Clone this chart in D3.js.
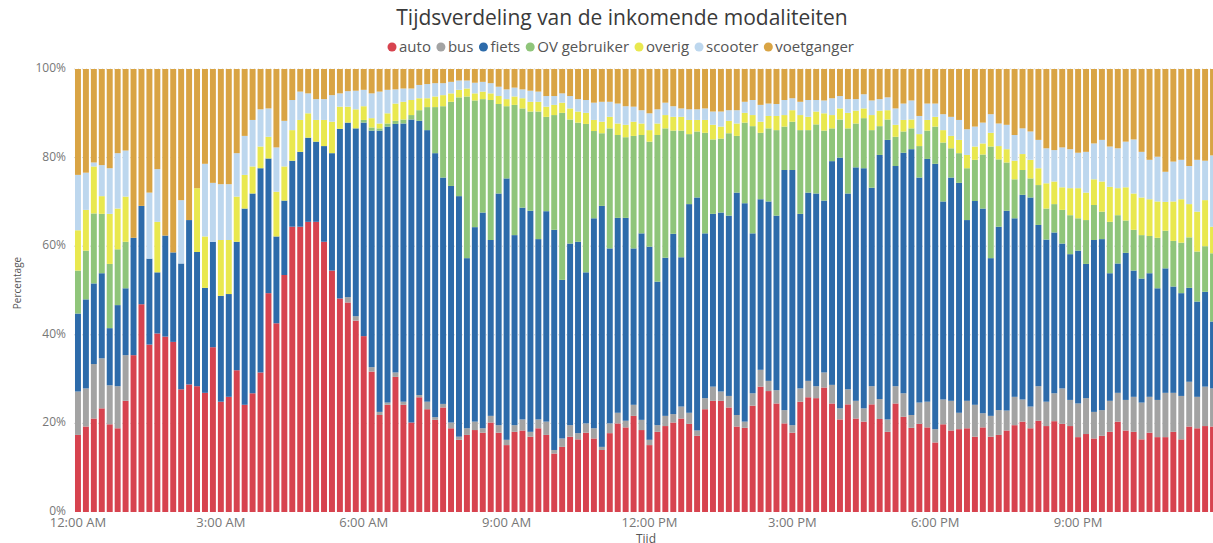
<!DOCTYPE html>
<meta charset="utf-8">
<head>
<style>
  body { margin: 0; background: #fff; }
  text { font-family: "Open Sans", sans-serif; }
</style>
</head>

<script src="https://d3js.org/d3.v7.min.js"></script>

<body>
    <div id="my_dataviz"></div>
</body>

<script>

    // series names and colours (legend order = stack order, bottom to top)
    var keys = ["auto", "bus", "fiets", "OV gebruiker", "overig", "scooter", "voetganger"];
    var colors = ["#d7434f", "#a3a3a3", "#2d6baa", "#8fc57a", "#e9e84f", "#bdd7ee", "#d9a444"];

    // percentages per 10-minute slot
    var auto = [17.4,19.3,21.1,23.4,19.8,18.9,25.1,35.4,46.9,37.8,
                40.3,39.6,38.4,27.7,28.8,28.4,26.9,37.2,24.9,26.0,
                32.0,24.2,26.8,31.5,49.4,42.6,53.5,64.4,64.4,65.5,
                65.5,61.0,54.5,48.2,47.3,43.2,39.7,31.7,21.9,24.2,
                30.5,24.2,20.2,25.9,23.2,20.8,23.6,18.9,16.3,17.4,
                18.5,17.9,20.2,17.9,15.1,18.1,18.4,17.0,18.9,17.4,
                13.2,14.7,17.0,16.4,17.9,16.6,14.0,17.8,20.0,19.1,
                21.7,18.5,15.1,18.1,19.4,20.2,21.1,19.9,17.2,23.2,
                25.1,25.1,23.6,19.3,19.0,24.0,28.3,27.3,24.5,20.0,
                17.9,24.9,25.9,25.7,28.1,24.5,20.9,24.3,21.1,20.4,
                24.3,21.0,18.1,24.5,21.5,19.0,19.9,19.1,15.7,19.8,
                18.4,18.7,18.9,17.0,19.1,17.0,17.4,18.4,19.6,20.4,
                18.9,20.6,19.4,20.5,19.9,19.4,16.9,17.6,16.6,17.2,
                18.1,20.4,18.4,18.1,16.4,17.9,16.9,16.9,18.1,16.4,
                19.3,18.9,19.4,19.3];

    var bus = [9.8,8.6,12.3,11.3,8.8,9.5,10.3,0,0,0,
               0,0,0,0,0,0,0,0,0,0,
               0,0,0,0,0,0,0,0,0,0,
               0,0,0,0,1.2,1.0,0,1.0,0.7,0.5,
               1.0,0.7,0,0.5,1.7,0.6,0.8,1.3,0.7,1.5,
               1.9,1.0,1.5,1.7,1.2,1.5,2.5,1.1,2.0,3.0,
               0.8,1.9,2.6,1.4,2.1,2.3,0.7,2.2,2.4,1.5,
               2.5,2.3,1.2,1.5,2.3,1.9,2.7,2.5,1.2,2.5,
               3.2,2.1,2.6,2.6,1.4,2.8,3.8,2.3,3.0,3.0,
               1.7,3.0,3.7,2.7,3.4,4.2,2.5,3.4,4.0,3.0,
               4.1,4.5,2.8,3.9,5.3,2.9,4.8,5.8,3.0,5.6,
               6.7,3.7,6.2,7.2,3.2,4.7,5.6,4.5,6.4,5.0,
               4.9,7.8,5.5,6.3,8.0,5.9,7.6,8.1,6.0,5.8,
               7.0,6.5,6.9,7.9,8.3,8.1,8.4,10.0,8.8,9.8,
               10.1,7.1,8.9,8.6];

    var fiets = [17.6,20.1,18.2,19.2,12.9,18.3,15.1,26.5,22.2,19.4,
                 13.8,22.8,20.2,28.4,37.1,30.3,23.7,23.8,23.9,23.2,
                 29.0,44.3,45.1,46.1,30.4,19.6,16.8,14.9,16.9,19.0,
                 18.1,21.6,26.5,38.3,39.4,42.4,48.2,53.4,63.5,62.3,
                 56.1,62.8,68.4,61.9,61.3,59.6,51.1,53.4,54.3,38.4,
                 43.9,48.7,39.7,52.3,59.0,42.9,47.8,49.9,40.7,47.5,
                 49.7,35.8,41.0,43.2,34.1,47.4,54.4,39.5,44.0,45.8,
                 35.3,42.1,43.6,32.4,35.7,40.7,33.7,47.1,52.6,37.2,
                 39.0,40.4,40.7,50.2,49.3,36.1,38.5,40.5,39.4,54.2,
                 57.6,39.4,42.5,43.5,38.8,50.5,56.6,44.2,52.7,54.2,
                 44.8,55.1,63.1,49.7,54.3,60.0,50.8,54.8,59.9,44.7,
                 50.4,51.9,40.8,46.0,46.2,35.6,41.4,45.1,40.3,46.2,
                 47.2,36.4,36.6,36.3,32.7,32.9,34.5,30.3,38.8,38.6,
                 28.8,29.2,33.2,28.5,28.0,27.9,25.2,28.1,24.0,23.2,
                 21.2,21.5,21.4,15.1];

    var ov = [9.7,11.0,15.8,13.4,14.5,12.6,10.5,0,0,0,
              0,0,0,0,0,0,0,0,0,0,
              0,0,0,0,0,0,0,0,0,0,
              0,0,0,0,0,0,0.6,0.7,0.5,0.7,
              0.7,0.9,1.0,2.4,5.2,10.4,16.1,19.0,22.3,36.5,
              28.6,25.6,31.6,20.2,16.3,29.4,22.4,22.4,28.8,21.3,
              25.9,37.7,28.0,26.9,33.5,19.7,16.4,27.1,18.7,18.2,
              25.4,22.2,23.7,33.1,29.2,23.3,28.6,15.8,14.9,22.7,
              16.8,16.7,18.6,12.8,18.2,24.2,15.0,16.5,19.3,9.8,
              10.9,18.9,14.1,15.6,15.8,7.4,8.6,14.7,9.9,11.3,
              13.0,6.5,4.6,6.6,4.8,4.7,7.1,6.4,8.4,13.3,
              6.6,6.7,11.7,9.3,12.2,25.2,15.2,10.9,8.8,5.6,
              4.3,9.0,7.0,6.4,7.6,8.8,7.3,9.9,7.9,6.2,
              11.6,10.9,7.3,9.2,9.8,8.4,11.4,8.5,10.3,11.4,
              11.4,11.3,10.3,15.4];

    var overig = [9.1,9.2,10.6,4.0,11.3,9.2,10.2,0,0,0,
                  11.4,0,0,0,0,14.4,11.6,0,12.6,12.2,
                  10.2,7.6,6.1,4.9,4.9,10.1,7.7,6.9,7.2,5.5,
                  4.9,5.9,7.1,5.0,3.6,4.3,3.1,2.1,1.1,2.3,
                  3.9,4.0,3.4,2.7,2.0,2.4,2.5,1.9,1.7,1.8,
                  1.6,1.7,1.5,1.8,1.6,1.9,2.3,2.2,2.2,2.3,
                  2.3,2.3,2.5,2.5,2.5,2.5,2.6,2.6,2.6,2.8,
                  3.2,2.6,2.6,2.6,3.0,3.1,3.1,3.2,2.6,2.9,
                  3.3,2.7,2.8,2.8,2.2,2.5,2.5,2.8,3.2,2.6,
                  2.6,3.4,3.0,2.9,3.9,3.0,2.5,3.5,2.9,2.2,
                  3.4,3.5,2.1,2.7,2.6,2.0,2.7,2.4,2.2,2.8,
                  2.8,3.0,3.0,3.0,2.5,3.1,3.0,3.0,4.2,3.6,
                  4.2,3.8,5.7,5.1,5.1,6.1,6.8,6.2,5.8,6.8,
                  7.9,6.1,7.5,8.2,8.5,8.3,8.2,6.5,8.9,9.8,
                  7.5,9.0,10.4,6.0];

    var scooter = [12.5,8.4,0.9,7.0,10.3,12.5,10.4,0,0,14.9,
                   11.9,0,0,14.3,0,0,16.4,13.3,12.6,12.6,
                   9.8,8.8,10.5,8.4,6.4,10.0,10.3,6.8,6.4,4.5,
                   4.7,4.7,6.0,3.0,3.5,4.2,3.7,5.6,7.2,5.3,
                   3.2,3.0,2.6,3.0,3.2,3.0,2.7,2.6,2.1,1.8,
                   2.4,2.2,2.3,2.1,2.2,2.0,2.0,2.5,2.3,2.4,
                   2.0,2.1,2.8,2.8,2.9,3.9,4.5,3.4,4.5,4.2,
                   3.4,3.0,3.8,3.2,2.8,2.4,1.9,2.4,2.4,2.6,
                   3.0,3.4,2.4,3.0,2.5,3.4,3.8,2.8,2.7,3.4,
                   2.7,3.0,3.8,2.6,2.9,3.8,2.8,3.1,2.6,3.2,
                   3.3,2.6,2.9,3.7,3.7,4.3,4.1,3.7,3.0,3.6,
                   4.3,4.5,5.8,4.5,4.7,4.2,5.1,5.5,5.8,5.8,
                   6.4,6.4,7.9,7.1,9.0,8.8,8.0,9.2,8.1,9.4,
                   9.1,9.0,10.3,12.2,10.3,8.9,10.1,6.8,9.0,8.9,
                   8.6,11.7,8.9,16.1];

    var voetganger = [23.9,23.4,21.1,21.7,22.4,19.0,18.4,38.1,30.9,27.9,
                      22.6,37.6,41.4,29.6,34.1,26.9,21.4,25.7,26.0,26.0,
                      19.0,15.1,11.5,9.1,8.9,17.7,11.7,7.0,5.1,5.5,
                      6.8,6.8,5.9,5.5,5.0,4.9,4.7,5.5,5.1,4.7,
                      4.6,4.4,4.4,3.6,3.4,3.2,3.2,2.9,2.6,2.6,
                      3.1,2.9,3.2,4.0,4.6,4.2,4.6,4.9,5.1,6.1,
                      6.1,5.5,6.1,6.8,7.0,7.6,7.4,7.4,7.8,8.4,
                      8.5,9.3,10.0,9.1,7.6,8.4,8.9,9.1,9.1,8.9,
                      9.6,9.6,9.3,9.3,7.4,7.0,8.1,7.8,7.9,7.0,
                      6.6,7.4,7.0,7.0,7.1,6.6,6.1,6.8,6.8,5.7,
                      7.1,6.8,6.4,8.9,7.8,7.1,10.6,7.8,7.8,10.2,
                      10.8,11.5,13.6,13.0,12.1,10.2,12.3,12.6,14.9,13.4,
                      14.1,16.0,17.9,18.3,17.7,18.1,18.9,18.7,16.8,16.0,
                      17.5,17.9,16.4,15.9,18.7,20.5,19.8,23.2,20.9,20.5,
                      21.9,20.5,20.7,19.5];

    var tickLabels = ["12:00 AM", "3:00 AM", "6:00 AM", "9:00 AM", "12:00 PM", "3:00 PM", "6:00 PM", "9:00 PM"];
    var yTicks = [0, 0.2, 0.4, 0.6, 0.8, 1];

    // one category per 10 minutes
    var fmt = d3.timeFormat("%-I:%M %p");
    var times = d3.timeMinutes(new Date(2020, 0, 1, 0, 0), new Date(2020, 0, 2, 0, 0), 10).map(fmt);

    var series = [auto, bus, fiets, ov, overig, scooter, voetganger];
    var data = times.map(function(t, i) {
        var row = {tijd: t};
        keys.forEach(function(k, j) { row[k] = series[j][i]; });
        return row;
    });

    var width = 1213, height = 543;

    var svg = d3.select("#my_dataviz")
      .append("svg")
        .attr("width", width)
        .attr("height", height);

    var x = d3.scaleBand()
        .domain(times)
        .range([74, 1217])
        .paddingInner(0.25)
        .paddingOuter(0.125);

    var y = d3.scaleLinear()
        .domain([0, 1])
        .range([512, 69]);

    var color = d3.scaleOrdinal().domain(keys).range(colors);

    // faint gridlines
    svg.append("g")
      .selectAll("line")
      .data(yTicks.slice(1))
      .enter()
      .append("line")
        .attr("x1", 74)
        .attr("x2", 1217)
        .attr("y1", function(d) { return y(d); })
        .attr("y2", function(d) { return y(d); })
        .style("stroke", "#d8d8d8")
        .style("stroke-dasharray", "1,3");

    // 100% stacked bars
    var stacked = d3.stack().keys(keys).offset(d3.stackOffsetExpand)(data);

    svg.append("g")
      .selectAll("g")
      .data(stacked)
      .enter()
      .append("g")
        .attr("fill", function(d) { return color(d.key); })
      .selectAll("rect")
      .data(function(d) { return d; })
      .enter()
      .append("rect")
        .attr("x", function(d) { return x(d.data.tijd); })
        .attr("y", function(d) { return y(d[1]); })
        .attr("height", function(d) { return y(d[0]) - y(d[1]); })
        .attr("width", x.bandwidth());

    // Y axis
    var yAxis = svg.append("g")
        .attr("transform", "translate(74,0)")
        .call(d3.axisLeft(y).tickValues(yTicks).tickFormat(d3.format(".0%")).tickSize(0).tickPadding(8));
    yAxis.select(".domain").remove();
    yAxis.selectAll("text")
        .attr("dy", "0.2em")
        .style("font-family", "'Open Sans', sans-serif")
        .style("font-size", "12px")
        .style("fill", "#777");

    // X axis
    var xAxis = svg.append("g")
        .attr("transform", "translate(0,512)")
        .call(d3.axisBottom(x).tickValues(tickLabels).tickSize(0).tickPadding(6));
    xAxis.select(".domain").remove();
    xAxis.selectAll("text")
        .style("font-family", "'Open Sans', sans-serif")
        .style("font-size", "13px")
        .style("fill", "#777");

    // axis titles
    svg.append("text")
        .attr("x", 646)
        .attr("y", 543)
        .style("text-anchor", "middle")
        .style("font-size", "12px")
        .style("fill", "#555")
        .text("Tijd");

    svg.append("text")
        .attr("x", -283)
        .attr("y", 21)
        .attr("transform", "rotate(-90)")
        .style("text-anchor", "middle")
        .style("font-size", "10px")
        .style("fill", "#555")
        .text("Percentage");

    // title
    svg.append("text")
        .attr("x", 622)
        .attr("y", 25)
        .style("text-anchor", "middle")
        .style("font-size", "21px")
        .style("fill", "#3a3a3a")
        .text("Tijdsverdeling van de inkomende modaliteiten");

    // legend, centred under the title
    var legend = svg.append("g");
    var cx = 0;
    keys.forEach(function(k) {
        var item = legend.append("g").attr("transform", "translate(" + cx + ",0)");
        item.append("circle")
            .attr("cx", 0)
            .attr("cy", 0)
            .attr("r", 4.5)
            .style("fill", color(k));
        var t = item.append("text")
            .attr("x", 7)
            .attr("y", 5)
            .style("font-size", "15px")
            .style("fill", "#555")
            .text(k);
        cx += 7 + t.node().getComputedTextLength() + 10;
    });
    var total = cx - 10;
    legend.attr("transform", "translate(" + (621 - total / 2 + 2) + ",47)");

</script>
